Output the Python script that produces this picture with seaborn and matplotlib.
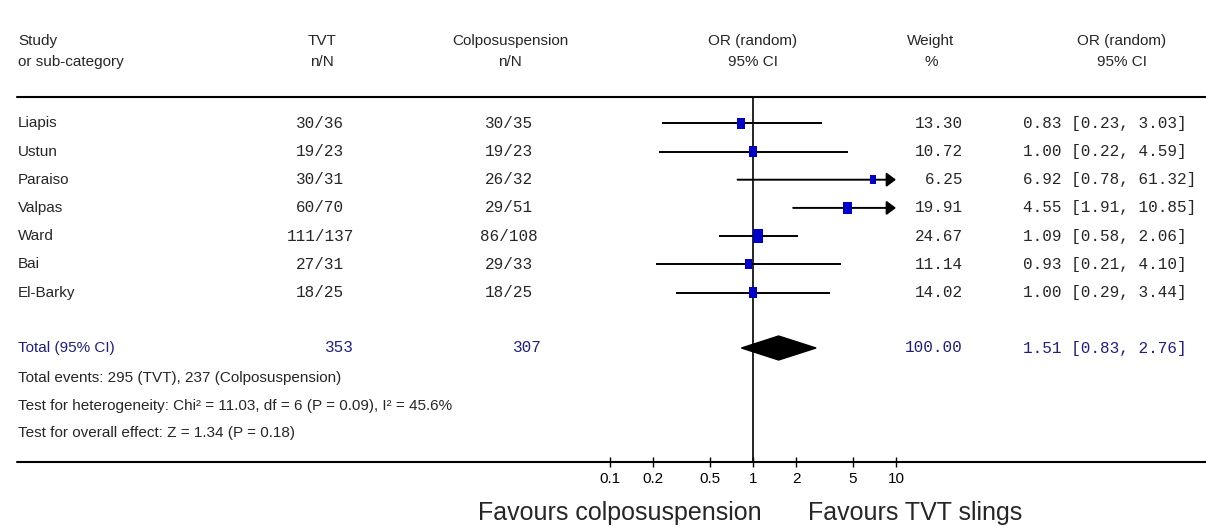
import numpy as np
import pandas as pd
import seaborn as sns
import matplotlib.pyplot as plt
from matplotlib import font_manager

# study level data
studies = ["Liapis", "Ustun", "Paraiso", "Valpas", "Ward", "Bai", "El-Barky"]
tvt_events = [30, 19, 30, 60, 111, 27, 18]
tvt_total = [36, 23, 31, 70, 137, 31, 25]
colpo_events = [30, 19, 26, 29, 86, 29, 18]
colpo_total = [35, 23, 32, 51, 108, 33, 25]
weights = [13.30, 10.72, 6.25, 19.91, 24.67, 11.14, 14.02]
odds = [0.83, 1.00, 6.92, 4.55, 1.09, 0.93, 1.00]
ci_low = [0.23, 0.22, 0.78, 1.91, 0.58, 0.21, 0.29]
ci_high = [3.03, 4.59, 61.32, 10.85, 2.06, 4.10, 3.44]

# pooled result
pooled_or = 1.51
pooled_low = 0.83
pooled_high = 2.76
pooled_weight = 100.00
n_tvt_all = 353
n_colpo_all = 307
events_text = "Total events: 295 (TVT), 237 (Colposuspension)"
hetero_text = "Test for heterogeneity: Chi² = 11.03, df = 6 (P = 0.09), I² = 45.6%"
overall_text = "Test for overall effect: Z = 1.34 (P = 0.18)"

ticks = [0.1, 0.2, 0.5, 1, 2, 5, 10]
tick_labels = ["0.1", "0.2", "0.5", "1", "2", "5", "10"]

sns.set_style("white")
names = {f.name for f in font_manager.fontManager.ttflist}
if "Liberation Sans Narrow" in names:
    sans = ["Liberation Sans Narrow", "DejaVu Sans"]
    fs = 13
else:
    sans = ["Liberation Sans", "DejaVu Sans"]
    fs = 11
mono = ["Liberation Mono", "DejaVu Sans Mono"]
plt.rcParams["font.family"] = sans
navy = "#1f1f80"

W, H = 1206, 529
fig = plt.figure(figsize=(12.06, 5.29), dpi=100)

# text layer, in pixel units
tx = fig.add_axes([0, 0, 1, 1])
tx.set_xlim(0, W)
tx.set_ylim(H, 0)
tx.axis("off")

# forest layer, log odds ratio scale
x_one, decade = 753, 143
left_px, right_px = 600, 906
top_px, bot_px = 96.5, 462
fx = fig.add_axes([left_px / W, (H - bot_px) / H, (right_px - left_px) / W, (bot_px - top_px) / H])
fx.patch.set_alpha(0)
fx.set_xscale("log")

row_y = 123.3 + 28.2 * np.arange(len(studies))
total_y = 348

df = pd.DataFrame({"study": studies, "odds": odds, "weight": weights, "y": row_y})

for lo, hi, y in zip(ci_low, ci_high, row_y):
    if hi > ticks[-1]:
        fx.annotate("", xy=(ticks[-1], y), xytext=(lo, y),
                    arrowprops=dict(arrowstyle="-|>,head_length=0.4,head_width=0.3",
                                    lw=1.4, color="black", mutation_scale=14,
                                    shrinkA=0, shrinkB=0))
    else:
        fx.plot([lo, hi], [y, y], color="black", lw=1.4, solid_capstyle="butt")

rect = [(-0.72, -1), (0.72, -1), (0.72, 1), (-0.72, 1), (-0.72, -1)]
sns.scatterplot(data=df, x="odds", y="y", size="weight", sizes=(42, 95),
                marker=rect, color="#0000c8", linewidth=0, legend=False,
                ax=fx, zorder=3)

fx.fill([pooled_low, pooled_or, pooled_high, pooled_or],
        [total_y, total_y - 12, total_y, total_y + 12], color="black", zorder=3)
fx.axvline(1, color="black", lw=1.2, zorder=2)

fx.set_xlim(10 ** ((left_px - x_one) / decade), 10 ** ((right_px - x_one) / decade))
fx.set_ylim(bot_px, top_px)
fx.set_xticks(ticks)
fx.set_xticklabels(tick_labels)
fx.minorticks_off()
fx.set_yticks([])
fx.set_xlabel("")
fx.set_ylabel("")
for s in fx.spines.values():
    s.set_visible(False)
fx.tick_params(axis="x", direction="inout", length=7, width=1, pad=4,
               labelsize=fs, colors="black", bottom=True)

# rules
tx.plot([17, W], [top_px, top_px], color="black", lw=1.5)
tx.plot([17, W], [bot_px, bot_px], color="black", lw=1.5)

# headers
hy1, hy2 = 41, 62
heads = [(18, "Study", "or sub-category", "left"),
         (322, "TVT", "n/N", "center"),
         (510, "Colposuspension", "n/N", "center"),
         (753, "OR (random)", "95% CI", "center"),
         (931, "Weight", "%", "center"),
         (1122, "OR (random)", "95% CI", "center")]
for x, t1, t2, ha in heads:
    tx.text(x, hy1, t1, ha=ha, va="center", fontsize=fs)
    tx.text(x, hy2, t2, ha=ha, va="center", fontsize=fs)

# study rows
mfs = 11.5
for i, y in enumerate(row_y):
    tx.text(18, y, studies[i], ha="left", va="center", fontsize=fs)
    tx.text(320, y, f"{tvt_events[i]}/{tvt_total[i]}", ha="center", va="center",
            fontsize=mfs, family=mono)
    tx.text(509, y, f"{colpo_events[i]}/{colpo_total[i]}", ha="center", va="center",
            fontsize=mfs, family=mono)
    tx.text(963, y, f"{weights[i]:.2f}", ha="right", va="center", fontsize=mfs, family=mono)
    tx.text(1023, y, f"{odds[i]:.2f} [{ci_low[i]:.2f}, {ci_high[i]:.2f}]",
            ha="left", va="center", fontsize=mfs, family=mono)

# total row
tx.text(18, total_y, "Total (95% CI)", ha="left", va="center", fontsize=fs, color=navy)
tx.text(354, total_y, f"{n_tvt_all}", ha="right", va="center", fontsize=mfs, family=mono, color=navy)
tx.text(542, total_y, f"{n_colpo_all}", ha="right", va="center", fontsize=mfs, family=mono, color=navy)
tx.text(963, total_y, f"{pooled_weight:.2f}", ha="right", va="center", fontsize=mfs,
        family=mono, color=navy)
tx.text(1023, total_y, f"{pooled_or:.2f} [{pooled_low:.2f}, {pooled_high:.2f}]",
        ha="left", va="center", fontsize=mfs, family=mono, color=navy)

for y, t in zip([378, 406, 433], [events_text, hetero_text, overall_text]):
    tx.text(18, y, t, ha="left", va="center", fontsize=fs)

# favours labels
tx.text(762, 513, "Favours colposuspension", ha="right", va="center", fontsize=18,
        family=["Liberation Sans", "DejaVu Sans"])
tx.text(808, 513, "Favours TVT slings", ha="left", va="center", fontsize=18,
        family=["Liberation Sans", "DejaVu Sans"])

fig.savefig("out.png", dpi=100, facecolor="white")
